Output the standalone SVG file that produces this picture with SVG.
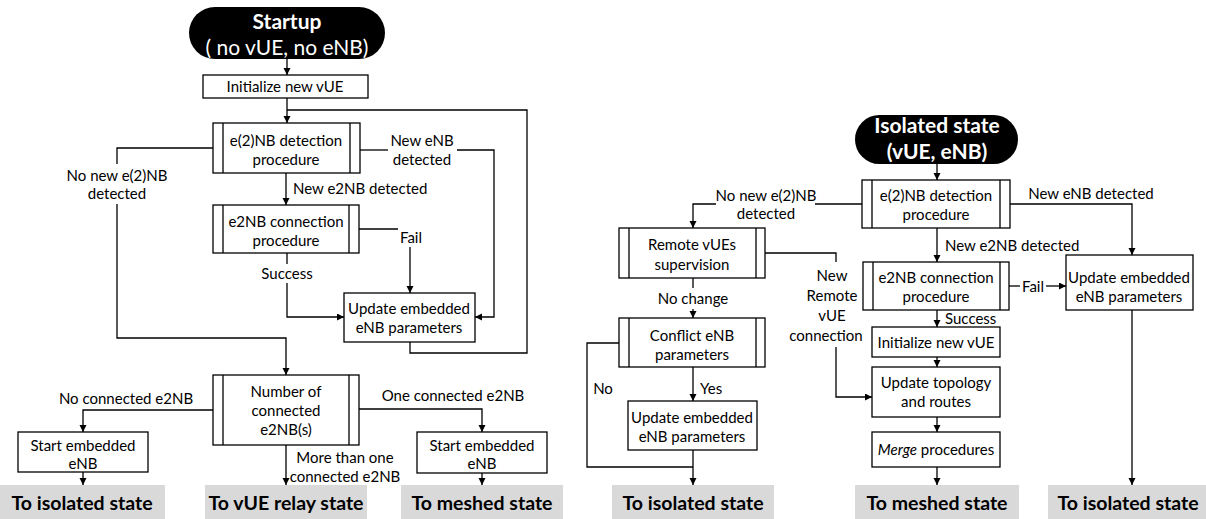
<svg xmlns="http://www.w3.org/2000/svg" width="1206" height="519" viewBox="0 0 1206 519">
  <style>
    text { font-family: Lato, "Open Sans", "Liberation Sans", sans-serif; font-size: 15px; fill: #000; }
    .c { text-anchor: middle; }
    .box { fill: #fff; stroke: #000; stroke-width: 1.3; }
    .inner { stroke: #000; stroke-width: 1.3; }
    .pill { fill: #000; }
    .pt { fill: #fff; font-size: 21px; text-anchor: middle; }
    .b { font-weight: bold; }
    .term { fill: #d9d9d9; }
    .tt { font-size: 19.5px; font-weight: bold; text-anchor: middle; }
    .link { fill: none; stroke: #000; stroke-width: 1.3; }
    .arr { marker-end: url(#ah); }
  </style>
  <defs>
    <marker id="ah" markerUnits="userSpaceOnUse" markerWidth="8" markerHeight="8" refX="7" refY="3.5" orient="auto">
      <path d="M0,0 L7,3.5 L0,7 z" fill="#000"/>
    </marker>
  </defs>

  <!-- connectors -->
  <g id="connectors">
    <!-- startup flow -->
    <path class="link arr" d="M287,58 V75"/>
    <path class="link arr" d="M287,98 V123"/>
    <path class="link" d="M213,148 H117 V164"/>
    <path class="link arr" d="M117,204 V338 H286 V375"/>
    <path class="link" d="M360,150 H388"/>
    <path class="link arr" d="M457,150 H494 V317 H475"/>
    <path class="link arr" d="M286,173 V205"/>
    <path class="link" d="M359,229 H398"/>
    <path class="link arr" d="M410,247 V293"/>
    <path class="link" d="M287,253 V264"/>
    <path class="link arr" d="M287,283 V317 H344"/>
    <path class="link" d="M410,342 V353 H527 V110 H287"/>
    <path class="link arr" d="M213,410 H83 V432"/>
    <path class="link arr" d="M83,472 V485"/>
    <path class="link arr" d="M286,445 V485"/>
    <path class="link arr" d="M359,409 H482 V432"/>
    <path class="link arr" d="M482,473 V485"/>
    <!-- isolated-state flow -->
    <path class="link arr" d="M937,164 V180"/>
    <path class="link" d="M862,204 H815"/>
    <path class="link arr" d="M716,204 H693 V228"/>
    <path class="link arr" d="M1010,204 H1132 V255"/>
    <path class="link arr" d="M937,228 V262"/>
    <path class="link" d="M1009,286 H1020"/>
    <path class="link arr" d="M1046,286 H1066"/>
    <path class="link arr" d="M1132,310 V485"/>
    <path class="link arr" d="M937,310 V327"/>
    <path class="link arr" d="M937,357 V367"/>
    <path class="link arr" d="M937,417 V432"/>
    <path class="link arr" d="M937,467 V485"/>
    <path class="link" d="M765,253 H836 V262"/>
    <path class="link arr" d="M836,347 V397 H872"/>
    <path class="link" d="M693,278 V288"/>
    <path class="link arr" d="M693,309 V318"/>
    <path class="link" d="M619,343 H587 V467 H693"/>
    <path class="link arr" d="M693,367 V401"/>
    <path class="link arr" d="M693,450 V485"/>
  </g>

  <!-- connector labels -->
  <g id="labels">
    <text class="c" x="117" y="181">No new e(2)NB</text>
    <text class="c" x="117" y="199">detected</text>
    <text class="c" x="422" y="146">New eNB</text>
    <text class="c" x="422" y="165">detected</text>
    <text x="293" y="194">New e2NB detected</text>
    <text class="c" x="411" y="243">Fail</text>
    <text class="c" x="287" y="279">Success</text>
    <text class="c" x="126" y="404">No connected e2NB</text>
    <text class="c" x="453" y="401">One connected e2NB</text>
    <text class="c" x="345" y="463">More than one</text>
    <text class="c" x="345" y="482">connected e2NB</text>

    <text class="c" x="766" y="201">No new e(2)NB</text>
    <text class="c" x="766" y="219">detected</text>
    <text class="c" x="1091" y="199">New eNB detected</text>
    <text x="945" y="251">New e2NB detected</text>
    <text class="c" x="1033" y="292">Fail</text>
    <text x="945" y="324">Success</text>
    <text class="c" x="832" y="281">New</text>
    <text class="c" x="832" y="301">Remote</text>
    <text class="c" x="832" y="321">vUE</text>
    <text class="c" x="826" y="341">connection</text>
    <text class="c" x="693" y="304">No change</text>
    <text class="c" x="603" y="394">No</text>
    <text x="700" y="394">Yes</text>
  </g>

  <!-- startup branch -->
  <g id="startup">
    <rect class="pill" x="189" y="7" width="196" height="52" rx="26"/>
    <text class="pt b" x="287" y="29">Startup</text>
    <text class="pt" x="287" y="55">( no vUE, no eNB)</text>
  </g>
  <g id="init-left">
    <rect class="box" x="203" y="75" width="165" height="23"/>
    <text class="c" x="285" y="92">Initialize new vUE</text>
  </g>
  <g id="detect-left">
    <rect class="box" x="213" y="123" width="147" height="50"/>
    <path class="inner" d="M223,123 V173 M350,123 V173"/>
    <text class="c" x="286" y="146">e(2)NB detection</text>
    <text class="c" x="286" y="165">procedure</text>
  </g>
  <g id="connect-left">
    <rect class="box" x="213" y="205" width="146" height="48"/>
    <path class="inner" d="M223,205 V253 M349,205 V253"/>
    <text class="c" x="286" y="227">e2NB connection</text>
    <text class="c" x="286" y="246">procedure</text>
  </g>
  <g id="update-left">
    <rect class="box" x="344" y="293" width="131" height="49"/>
    <text class="c" x="409" y="314">Update embedded</text>
    <text class="c" x="409" y="333">eNB parameters</text>
  </g>
  <g id="count-left">
    <rect class="box" x="213" y="375" width="146" height="70"/>
    <path class="inner" d="M223,375 V445 M349,375 V445"/>
    <text class="c" x="286" y="397">Number of</text>
    <text class="c" x="286" y="416">connected</text>
    <text class="c" x="286" y="435">e2NB(s)</text>
  </g>
  <g id="start-enb-a">
    <rect class="box" x="18" y="432" width="130" height="40"/>
    <text class="c" x="83" y="451">Start embedded</text>
    <text class="c" x="83" y="469">eNB</text>
  </g>
  <g id="start-enb-b">
    <rect class="box" x="417" y="432" width="130" height="41"/>
    <text class="c" x="482" y="451">Start embedded</text>
    <text class="c" x="482" y="469">eNB</text>
  </g>
  <g id="to-isolated-a">
    <rect class="term" x="0" y="485" width="165" height="34"/>
    <text class="tt" x="82" y="510">To isolated state</text>
  </g>
  <g id="to-relay">
    <rect class="term" x="205" y="485" width="162" height="34"/>
    <text class="tt" x="286" y="510">To vUE relay state</text>
  </g>
  <g id="to-meshed-a">
    <rect class="term" x="401" y="485" width="162" height="34"/>
    <text class="tt" x="482" y="510">To meshed state</text>
  </g>

  <!-- isolated-state branch -->
  <g id="isolated">
    <rect class="pill" x="855" y="115" width="163" height="49" rx="24.5"/>
    <text class="pt b" x="937" y="133" font-size="20">Isolated state</text>
    <text class="pt b" x="937" y="159" font-size="20">(vUE, eNB)</text>
  </g>
  <g id="detect-right">
    <rect class="box" x="862" y="180" width="148" height="48"/>
    <path class="inner" d="M872,180 V228 M1000,180 V228"/>
    <text class="c" x="936" y="201">e(2)NB detection</text>
    <text class="c" x="936" y="220">procedure</text>
  </g>
  <g id="remote">
    <rect class="box" x="619" y="228" width="146" height="50"/>
    <path class="inner" d="M629,228 V278 M756,228 V278"/>
    <text class="c" x="692" y="250">Remote vUEs</text>
    <text class="c" x="692" y="270">supervision</text>
  </g>
  <g id="conflict">
    <rect class="box" x="619" y="318" width="146" height="49"/>
    <path class="inner" d="M629,318 V367 M756,318 V367"/>
    <text class="c" x="692" y="341">Conflict eNB</text>
    <text class="c" x="692" y="360">parameters</text>
  </g>
  <g id="update-mid">
    <rect class="box" x="628" y="401" width="129" height="49"/>
    <text class="c" x="692" y="423">Update embedded</text>
    <text class="c" x="692" y="442">eNB parameters</text>
  </g>
  <g id="connect-right">
    <rect class="box" x="863" y="262" width="146" height="48"/>
    <path class="inner" d="M873,262 V310 M1000,262 V310"/>
    <text class="c" x="936" y="283">e2NB connection</text>
    <text class="c" x="936" y="302">procedure</text>
  </g>
  <g id="update-right">
    <rect class="box" x="1066" y="255" width="127" height="55"/>
    <text class="c" x="1129" y="283">Update embedded</text>
    <text class="c" x="1129" y="302">eNB parameters</text>
  </g>
  <g id="init-right">
    <rect class="box" x="872" y="327" width="128" height="30"/>
    <text class="c" x="936" y="348">Initialize new vUE</text>
  </g>
  <g id="topology">
    <rect class="box" x="872" y="367" width="128" height="50"/>
    <text class="c" x="936" y="388">Update topology</text>
    <text class="c" x="936" y="407">and routes</text>
  </g>
  <g id="merge">
    <rect class="box" x="872" y="432" width="128" height="35"/>
    <text class="c" x="936" y="455"><tspan font-style="italic">Merge</tspan> procedures</text>
  </g>
  <g id="to-isolated-b">
    <rect class="term" x="612" y="485" width="162" height="34"/>
    <text class="tt" x="693" y="510">To isolated state</text>
  </g>
  <g id="to-meshed-b">
    <rect class="term" x="855" y="485" width="164" height="34"/>
    <text class="tt" x="937" y="510">To meshed state</text>
  </g>
  <g id="to-isolated-c">
    <rect class="term" x="1048" y="485" width="158" height="34"/>
    <text class="tt" x="1128" y="510">To isolated state</text>
  </g>
</svg>
